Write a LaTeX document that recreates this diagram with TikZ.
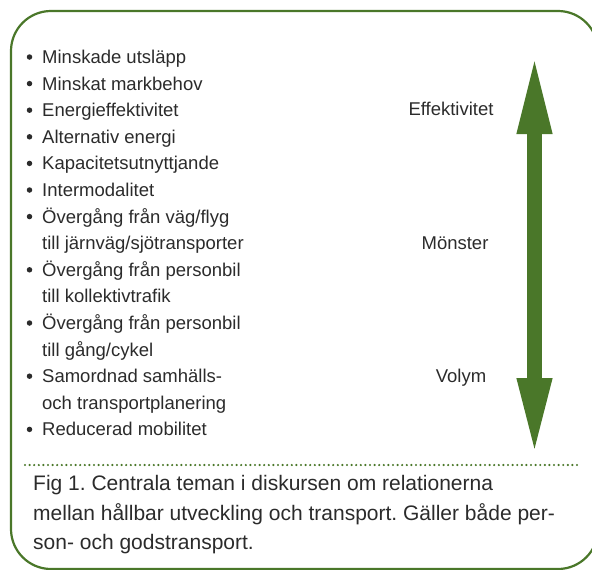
\documentclass[tikz,border=0pt]{standalone}
\usepackage{fontspec}
\setmainfont{Liberation Sans}
\usetikzlibrary{arrows.meta}
\definecolor{leafgreen}{HTML}{4A7729}
\definecolor{inktext}{HTML}{2B2B2B}
\frenchspacing

\begin{document}
\begin{tikzpicture}[x=1pt,y=-1pt,
    listtext/.style={anchor=base west, inner sep=0pt, text=inktext,
      font=\fontsize{18.5}{22}\selectfont},
    sidetext/.style={anchor=base, inner sep=0pt, text=inktext,
      font=\fontsize{18.5}{22}\selectfont},
    captext/.style={anchor=base west, inner sep=0pt, text=inktext,
      font=\fontsize{21}{30}\selectfont},
    bulletmark/.style={circle, fill=inktext, inner sep=0pt, minimum size=5.5pt}]
  \useasboundingbox (0,0) rectangle (592,570);
  % frame
  \draw[leafgreen, line width=2.2pt, rounded corners=40pt] (11,11) rectangle (598,569);
  % list
  \foreach \row/\txt in {0/{Minskade utsläpp}, 1/{Minskat markbehov},
      2/{Energieffektivitet}, 3/{Alternativ energi}, 4/{Kapacitetsutnyttjande},
      5/{Intermodalitet}, 6/{Övergång från väg/flyg}, 7/{till järnväg/sjötransporter},
      8/{Övergång från personbil}, 9/{till kollektivtrafik},
      10/{Övergång från personbil}, 11/{till gång/cykel},
      12/{Samordnad samhälls-}, 13/{och transportplanering},
      14/{Reducerad mobilitet}}
    \node[listtext] (line\row) at (42,63.5+26.6*\row) {\txt};
  \foreach \row in {0,...,6,8,10,12,14}
    \node[bulletmark] (bul\row) at (29.5,57+26.6*\row) {};
  % side labels
  \node[sidetext] (effekt) at (451,115.5) {Effektivitet};
  \node[sidetext] (monster) at (455,249.5) {Mönster};
  \node[sidetext] (volym) at (461,382.5) {Volym};
  % double arrow
  \coordinate (upTip) at (534.5,52);
  \coordinate (downTip) at (534.5,458);
  \draw[leafgreen, line width=15pt,
    {Triangle[length=82pt,width=31pt]}-{Triangle[length=80pt,width=31pt]}]
    (upTip) -- (downTip);
  % dotted rule
  \coordinate (dotL) at (25,465);
  \coordinate (dotR) at (580,465);
  \draw[leafgreen, line width=2.4pt, line cap=round, dash pattern=on 0pt off 4.6pt]
    (dotL) -- (dotR);
  % caption
  \node[captext] (cap1) at (33,490.5) {Fig 1. Centrala teman i diskursen om relationerna};
  \node[captext] (cap2) at (33,520) {mellan hållbar utveckling och transport. Gäller både per-};
  \node[captext] (cap3) at (33,549.5) {son- och godstransport.};
\end{tikzpicture}
\end{document}
